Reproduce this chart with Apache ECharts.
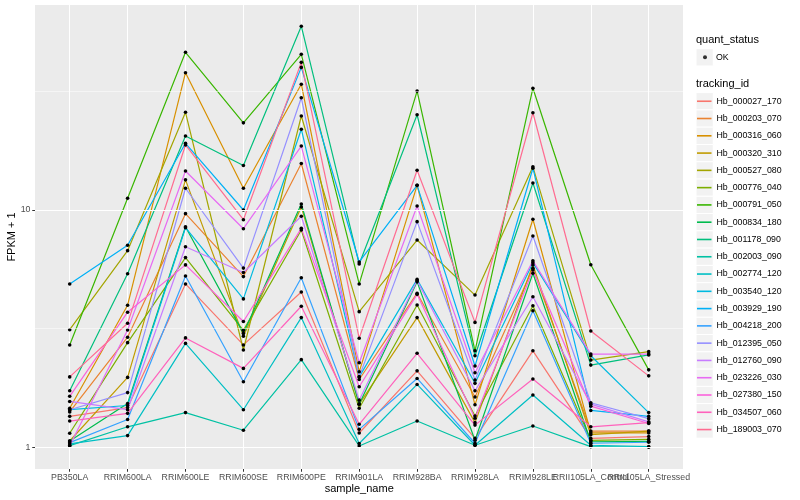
<!DOCTYPE html>
<html><head><meta charset="utf-8">
<script src="https://cdn.jsdelivr.net/npm/echarts@6/dist/echarts.min.js"></script>
<style>html,body{margin:0;padding:0;background:#fff}#c{width:800px;height:500px}</style>
</head><body><div id="c"></div>
<script>
// ---------- data ----------
const categories = ["PB350LA","RRIM600LA","RRIM600LE","RRIM600SE","RRIM600PE","RRIM901LA","RRIM928BA","RRIM928LA","RRIM928LE","RRII105LA_Control","RRII105LA_Stressed"];

const Hb_000027_170 = [1.35, 1.47, 4.88, 2.70, 4.51, 1.149, 2.10, 1.09, 2.55, 1.09, 1.11];
const Hb_000203_070 = [1.41, 2.91, 9.65, 5.24, 15.7, 1.93, 4.46, 1.63, 5.68, 1.17, 1.17];
const Hb_000316_060 = [1.46, 3.97, 37.9, 12.35, 33.9, 2.08, 12.7, 1.51, 9.14, 1.15, 1.15];
const Hb_000320_310 = [1.063, 1.97, 13.4, 2.94, 10.3, 1.52, 3.52, 1.27, 5.87, 1.13, 1.17];
const Hb_000527_080 = [3.13, 6.74, 25.8, 2.57, 24.9, 3.73, 7.47, 4.38, 15.2, 2.33, 2.53];
const Hb_000776_040 = [1.146, 2.76, 6.30, 3.11, 8.24, 1.46, 3.98, 1.355, 3.95, 1.07, 1.08];
const Hb_000791_050 = [2.70, 11.2, 46.2, 23.3, 45.3, 4.88, 31.7, 2.55, 32.6, 5.88, 2.12];
const Hb_000834_180 = [1.063, 1.53, 8.50, 3.02, 10.6, 1.52, 4.98, 1.07, 5.41, 1.055, 1.06];
const Hb_001178_090 = [1.73, 5.39, 20.5, 15.4, 59.5, 5.92, 25.2, 2.43, 13.0, 2.22, 2.45];
const Hb_002003_090 = [1.016, 1.22, 1.40, 1.18, 2.34, 1.013, 1.29, 1.02, 1.23, 1.006, 1.0];
const Hb_002774_120 = [1.033, 1.12, 2.74, 1.44, 3.52, 1.037, 1.84, 1.02, 1.66, 1.02, 1.006];
const Hb_003540_120 = [1.44, 1.50, 8.42, 4.22, 21.9, 1.98, 5.10, 1.86, 6.0, 2.43, 1.40];
const Hb_003929_190 = [4.88, 7.10, 19.1, 10.0, 39.9, 6.04, 12.7, 2.20, 15.0, 1.43, 1.35];
const Hb_004218_200 = [1.046, 1.31, 5.27, 1.89, 5.18, 1.19, 1.95, 1.04, 3.76, 1.04, 1.05];
const Hb_012395_050 = [1.44, 1.70, 12.35, 5.69, 29.7, 1.98, 8.93, 1.92, 7.77, 1.54, 1.32];
const Hb_012760_090 = [1.56, 1.44, 7.00, 5.45, 9.41, 1.58, 5.04, 1.73, 4.31, 1.52, 1.28];
const Hb_023226_030 = [1.016, 3.12, 14.6, 8.34, 18.6, 2.27, 10.4, 2.06, 6.11, 2.47, 2.47];
const Hb_027380_150 = [1.64, 3.71, 5.87, 3.39, 8.37, 1.80, 4.41, 1.325, 5.59, 1.49, 1.26];
const Hb_034507_060 = [1.29, 1.39, 2.89, 2.15, 3.93, 1.25, 2.49, 1.24, 1.94, 1.22, 1.27];
const Hb_189003_070 = [1.98, 3.33, 18.8, 9.10, 41.9, 2.88, 14.7, 3.36, 25.7, 3.09, 2.00];

const trackingIds = ["Hb_000027_170","Hb_000203_070","Hb_000316_060","Hb_000320_310","Hb_000527_080","Hb_000776_040","Hb_000791_050","Hb_000834_180","Hb_001178_090","Hb_002003_090","Hb_002774_120","Hb_003540_120","Hb_003929_190","Hb_004218_200","Hb_012395_050","Hb_012760_090","Hb_023226_030","Hb_027380_150","Hb_034507_060","Hb_189003_070"];
const seriesValues = [Hb_000027_170, Hb_000203_070, Hb_000316_060, Hb_000320_310, Hb_000527_080, Hb_000776_040, Hb_000791_050, Hb_000834_180, Hb_001178_090, Hb_002003_090, Hb_002774_120, Hb_003540_120, Hb_003929_190, Hb_004218_200, Hb_012395_050, Hb_012760_090, Hb_023226_030, Hb_027380_150, Hb_034507_060, Hb_189003_070];
const quantStatus = ["OK"];
const yTickValues = [1, 10];
const yMinorBreaks = [3.1623, 31.623];
const yRange = [0.81, 73.1];

// ---------- styles ----------
const palette = ["#F8766D","#EA8331","#D89000","#C09B00","#A3A500","#7CAE00","#39B600","#00BB4E","#00BF7D","#00C1A3","#00BFC4","#00BAE0","#00B0F6","#35A2FF","#9590FF","#C77CFF","#E76BF3","#FA62DB","#FF62BC","#FF6C91"];
const FONT = '"Liberation Sans", Arial, sans-serif';
const KEY = 17.28;
const LEG_LEFT = 696;
const QS_TOP = 48.7;
const TID_TOP = 92.6;

const chart = echarts.init(document.getElementById('c'), null, {renderer:'canvas', width:800, height:500});

const lineSeries = trackingIds.map((id, i) => ({
  name: id, type: 'line', xAxisIndex: 1, yAxisIndex: 1,
  data: seriesValues[i],
  symbol: 'circle', symbolSize: 3.6, showAllSymbol: true,
  itemStyle: {color: '#000'},
  lineStyle: {color: palette[i], width: 1.2},
  emphasis: {disabled: true}, silent: true, z: 3
}));

const keyRects = [];
keyRects.push({type:'rect', z:1, shape:{x:LEG_LEFT, y:QS_TOP, width:KEY, height:KEY}, style:{fill:'#F2F2F2', stroke:'#fff', lineWidth:1}});
trackingIds.forEach((id, i) => {
  keyRects.push({type:'rect', z:1, shape:{x:LEG_LEFT, y:TID_TOP + i*KEY, width:KEY, height:KEY}, style:{fill:'#F2F2F2', stroke:'#fff', lineWidth:1}});
});

const legendText = {fontSize: 8.8, color: '#000', fontFamily: FONT, lineHeight: KEY};

chart.setOption({
  animation: false,
  backgroundColor: '#fff',
  grid: [
    {left: 35, top: 5, width: 648, height: 464, show: true, backgroundColor: '#EBEBEB', borderWidth: 0, containLabel: false, outerBoundsMode: 'none'},
    {left: 69.7, top: 5, width: 579, height: 464, show: false, containLabel: false, outerBoundsMode: 'none'}
  ],
  xAxis: [
    {gridIndex: 0, type: 'value', min: 0, max: 1, show: false},
    {gridIndex: 1, type: 'category', data: categories, boundaryGap: false,
     axisLine: {show: false},
     axisTick: {show: true, length: 2.75, lineStyle: {color: '#333333', width: 1}},
     axisLabel: {interval: 0, fontSize: 8.8, color: '#4D4D4D', fontFamily: FONT, margin: 4, hideOverlap: false},
     splitLine: {show: true, lineStyle: {color: '#FFFFFF', width: 1.07}},
     name: 'sample_name', nameLocation: 'middle', nameGap: 14, nameMoveOverlap: false,
     nameTextStyle: {fontSize: 11, color: '#000', fontFamily: FONT}}
  ],
  yAxis: [
    {gridIndex: 0, type: 'log', logBase: 10, min: yRange[0], max: yRange[1],
     axisLine: {show: false},
     axisTick: {show: true, length: 2.75, lineStyle: {color: '#333333', width: 1}, customValues: yTickValues},
     axisLabel: {customValues: yTickValues, fontSize: 8.8, color: '#4D4D4D', fontFamily: FONT, margin: 4.5},
     splitLine: {show: false},
     name: 'FPKM + 1', nameLocation: 'middle', nameGap: 17.5, nameMoveOverlap: false,
     nameTextStyle: {fontSize: 11, color: '#000', fontFamily: FONT}},
    {gridIndex: 1, type: 'log', logBase: 10, min: yRange[0], max: yRange[1], show: false}
  ],
  legend: [
    {orient: 'vertical', left: LEG_LEFT + 7, top: QS_TOP, itemGap: 0, padding: 0,
     itemWidth: 4, itemHeight: 4, selectedMode: false,
     data: quantStatus.map(q => ({name: q, icon: 'circle', itemStyle: {color: '#000'}})),
     textStyle: Object.assign({}, legendText, {padding: [0, 0, 0, 4]})},
    {orient: 'vertical', left: LEG_LEFT + 1, top: TID_TOP, itemGap: 0, padding: 0,
     itemWidth: 14.5, itemHeight: 1.6, selectedMode: false,
     data: trackingIds.map((id, i) => ({name: id, icon: 'rect', itemStyle: {color: palette[i], borderWidth: 0}})),
     textStyle: legendText}
  ],
  graphic: [
    {type: 'text', x: LEG_LEFT, y: 40, z: 2, style: {text: 'quant_status', fontSize: 11, fontFamily: FONT, fill: '#000', verticalAlign: 'middle'}},
    {type: 'text', x: LEG_LEFT, y: 84.4, z: 2, style: {text: 'tracking_id', fontSize: 11, fontFamily: FONT, fill: '#000', verticalAlign: 'middle'}}
  ].concat(keyRects),
  series: [
    {type: 'line', xAxisIndex: 0, yAxisIndex: 0, data: [], silent: true, z: 1,
     markLine: {silent: true, symbol: ['none', 'none'], animation: false, label: {show: false},
       emphasis: {disabled: true},
       data: yTickValues.map(v => ({yAxis: v, lineStyle: {color: '#FFFFFF', width: 1.07, type: 'solid'}}))
         .concat(yMinorBreaks.map(v => ({yAxis: v, lineStyle: {color: '#FFFFFF', width: 0.53, type: 'solid'}})))}},
    {name: 'OK', type: 'scatter', xAxisIndex: 1, yAxisIndex: 1, data: [], itemStyle: {color: '#000'}}
  ].concat(lineSeries)
});
</script>
</body></html>
